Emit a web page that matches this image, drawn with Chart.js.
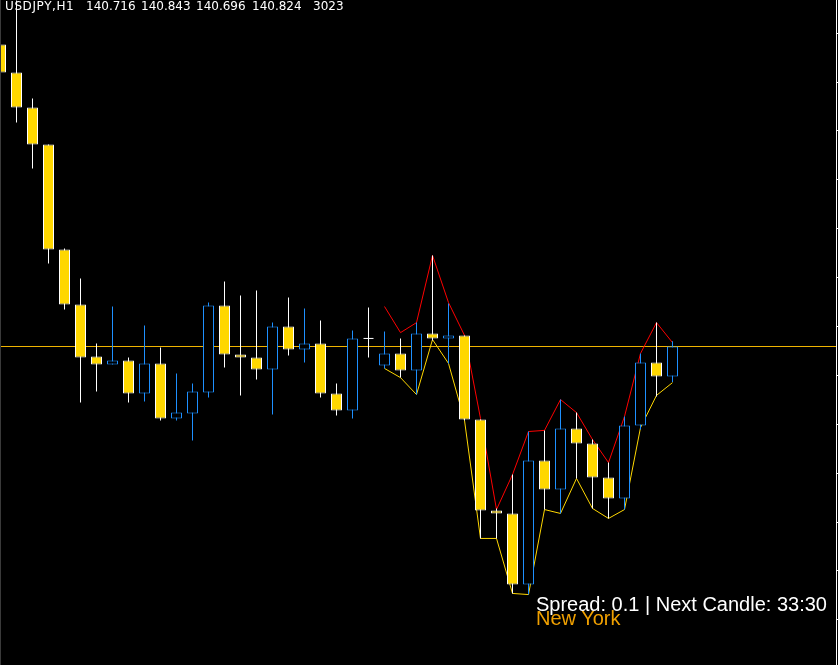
<!DOCTYPE html>
<html>
<head>
<meta charset="utf-8">
<script src="https://cdn.jsdelivr.net/npm/chart.js"></script>
<style>
  html, body { margin: 0; padding: 0; background: #000; }
  #wrap { position: relative; width: 838px; height: 665px; background: #000; overflow: hidden; }
  #leftEdge { position: absolute; left: 0; top: 0; width: 1px; height: 665px; background: #3a3a3a; }
  .hdr { position: absolute; top: 0; font: 12px "DejaVu Sans", sans-serif; line-height: 12px; color: #fff; white-space: pre; }
  .info { position: absolute; left: 536px; font: 20px "Liberation Sans", Arial, sans-serif; line-height: 20px; white-space: pre; }
</style>
</head>
<body>
<div id="wrap">
  <canvas id="myChart"></canvas>
  <div id="leftEdge"></div>
  <div class="hdr" style="left:5px; letter-spacing:0.6px">USDJPY,H1</div>
  <div class="hdr" style="left:86px">140.716</div>
  <div class="hdr" style="left:141px">140.843</div>
  <div class="hdr" style="left:196px">140.696</div>
  <div class="hdr" style="left:252px">140.824</div>
  <div class="hdr" style="left:313px">3023</div>
  <div class="info" style="top:594px; color:#fff">Spread: 0.1 | Next Candle: 33:30</div>
  <div class="info" style="top:608px; color:#f0a000">New York</div>
</div>
<script>
// USDJPY H1 candles, oldest first
const candleOpen = [141.911, 141.810, 141.684, 141.551, 141.173, 140.975, 140.788, 140.759, 140.774, 140.655,
  140.763, 140.565, 140.583, 140.658, 140.972, 140.795, 140.784, 140.741, 140.896, 140.813,
  140.835, 140.655, 140.594, 140.853, 140.756, 140.799, 140.738, 140.871, 140.853, 140.864,
  140.561, 140.234, 140.223, 139.967, 140.414, 140.309, 140.529, 140.475, 140.352, 140.277,
  140.540, 140.766, 140.716];
const candleHigh = [141.911, 142.070, 141.717, 141.551, 141.177, 141.069, 140.835, 140.968, 140.784, 140.900,
  140.820, 140.727, 140.691, 140.982, 141.058, 141.008, 141.026, 140.910, 141.000, 140.961,
  140.918, 140.691, 140.882, 140.964, 140.878, 140.853, 140.910, 141.152, 140.979, 140.864,
  140.561, 140.241, 140.363, 140.518, 140.522, 140.633, 140.586, 140.489, 140.406, 140.572,
  140.799, 140.910, 140.843];
const candleLow = [141.810, 141.630, 141.465, 141.123, 140.957, 140.622, 140.662, 140.759, 140.622, 140.626,
  140.558, 140.558, 140.486, 140.640, 140.748, 140.648, 140.705, 140.579, 140.792, 140.766,
  140.640, 140.576, 140.565, 140.784, 140.745, 140.712, 140.651, 140.846, 140.763, 140.558,
  140.133, 140.133, 139.935, 139.931, 140.237, 140.223, 140.349, 140.241, 140.205, 140.237,
  140.525, 140.644, 140.696];
const candleClose = [141.810, 141.684, 141.551, 141.173, 140.975, 140.784, 140.759, 140.774, 140.655, 140.763,
  140.565, 140.586, 140.662, 140.972, 140.795, 140.784, 140.741, 140.896, 140.813, 140.835,
  140.655, 140.594, 140.853, 140.853, 140.799, 140.738, 140.871, 140.853, 140.864, 140.561,
  140.234, 140.223, 139.967, 140.414, 140.309, 140.529, 140.475, 140.352, 140.277, 140.540,
  140.766, 140.716, 140.824];

// indicator lines, starting at candle 24
const lineStart = 24;
const redLine = [140.968, 140.874, 140.910, 141.152, 140.982, 140.864, 140.565, 140.237, 140.363, 140.518,
  140.522, 140.633, 140.586, 140.489, 140.406, 140.572, 140.799, 140.910, 140.838];
const yellowLine = [140.745, 140.712, 140.651, 140.849, 140.763, 140.558, 140.133, 140.133, 139.935, 139.931,
  140.237, 140.223, 140.349, 140.241, 140.205, 140.237, 140.532, 140.648, 140.694];

const bidPrice = 140.824;
const priceTicks = [141.952, 141.776, 141.600, 141.424, 141.248, 141.072, 140.896, 140.720,
  140.544, 140.368, 140.192, 140.016, 139.840];

const BULL = '#1e90ff', BEAR = '#ffd700', WICK_BEAR = '#ffffff';

const idx = candleOpen.map((_, i) => i);
const isBull = i => candleClose[i] > candleOpen[i];
const isDoji = i => candleClose[i] === candleOpen[i];

const bodies = idx.map(i => ({x: i, y: [candleOpen[i], candleClose[i]]}));
const wicks = idx.map(i => ({x: i, y: [candleLow[i], candleHigh[i]]}));
const dojis = idx.filter(isDoji).map(i => ({x: i, y: candleOpen[i]}));

const ctx = document.getElementById('myChart');
new Chart(ctx, {
  type: 'bar',
  data: {
    datasets: [
      {
        label: 'body', data: bodies, order: 0, grouped: false,
        barThickness: 11, borderWidth: 1, borderSkipped: false, inflateAmount: 0,
        backgroundColor: idx.map(i => isBull(i) ? '#000000' : BEAR),
        borderColor: idx.map(i => isBull(i) ? BULL : '#ffffff')
      },
      {
        type: 'scatter', label: 'doji', data: dojis, order: 0,
        pointStyle: 'line', pointRadius: 5, borderColor: '#ffffff', borderWidth: 1
      },
      {
        label: 'wick', data: wicks, order: 1, grouped: false,
        barThickness: 1, borderWidth: 0, inflateAmount: 0,
        backgroundColor: idx.map(i => isBull(i) ? BULL : WICK_BEAR)
      },
      {
        type: 'line', label: 'upper', order: 2,
        data: redLine.map((v, k) => ({x: lineStart + k, y: v})),
        borderColor: '#ff0000', borderWidth: 1, pointRadius: 0, tension: 0
      },
      {
        type: 'line', label: 'lower', order: 2,
        data: yellowLine.map((v, k) => ({x: lineStart + k, y: v})),
        borderColor: '#ffd700', borderWidth: 1, pointRadius: 0, tension: 0
      },
      {
        type: 'line', label: 'bid', order: 3,
        data: [{x: -1, y: bidPrice}, {x: 60, y: bidPrice}],
        borderColor: '#f0b400', borderWidth: 1, pointRadius: 0
      }
    ]
  },
  options: {
    responsive: true,
    maintainAspectRatio: false,
    animation: false,
    layout: { padding: 0, autoPadding: false },
    plugins: { legend: { display: false }, tooltip: { enabled: false } },
    scales: {
      x: {
        type: 'linear', display: false, offset: false,
        min: -0.03125, max: 52.21875
      },
      y: {
        type: 'linear', position: 'right',
        min: 139.6774, max: 142.0714,
        ticks: { display: false },
        grid: { drawOnChartArea: false, drawTicks: true, tickLength: 3, color: '#ffffff', tickColor: '#ffffff' },
        border: { display: true, color: '#ffffff', width: 1 },
        afterBuildTicks: scale => { scale.ticks = priceTicks.map(v => ({value: v})); },
        afterFit: scale => { scale.width = 2; }
      }
    }
  }
});
</script>
</body>
</html>
